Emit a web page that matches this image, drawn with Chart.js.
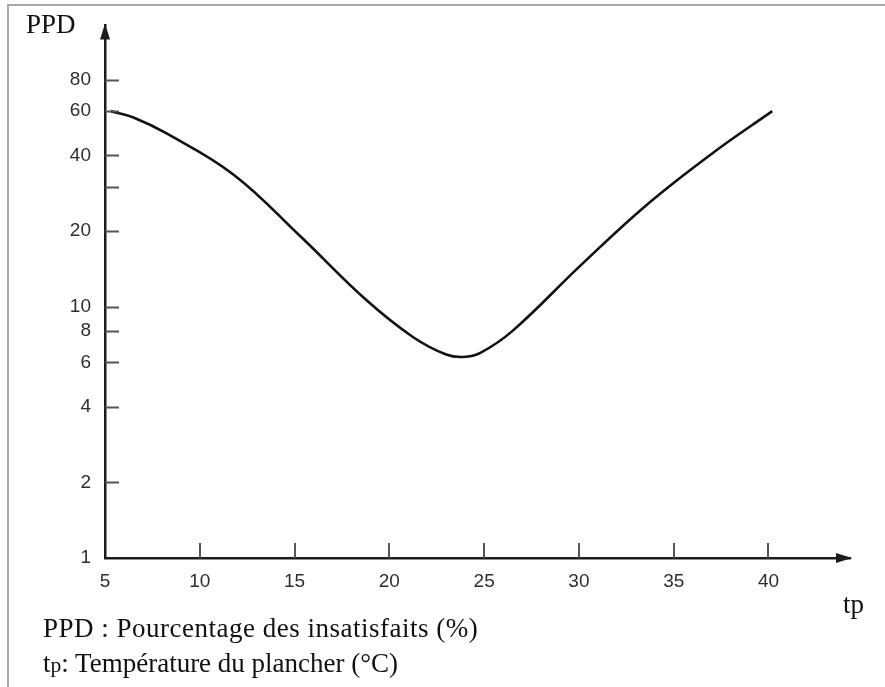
<!DOCTYPE html>
<html>
<head>
<meta charset="utf-8">
<script src="https://cdn.jsdelivr.net/npm/chart.js@4.4.1/dist/chart.umd.min.js"></script>
<style>
  html, body { margin: 0; padding: 0; background: #fff; }
  #wrap { position: relative; width: 885px; height: 687px; overflow: hidden; }
  #frame { position: absolute; left: 7px; top: 4px; right: -10px; bottom: -10px;
           border-top: 2px solid #a8a8a8; border-left: 2px solid #a8a8a8; pointer-events: none; }
  canvas { position: absolute; left: 0; top: 0; }
  .lbl { position: absolute; font-family: "Liberation Serif", "Times New Roman", serif; color: #111;
         white-space: nowrap; line-height: 1; }
  .sub { font-size: 0.8em; }
</style>
</head>
<body>
<div id="wrap">
  <canvas id="c" width="885" height="687"></canvas>
  <div id="frame"></div>
  <div class="lbl" id="ylab" style="left:26px; top:11px; font-size:27px;">PPD</div>
  <div class="lbl" id="xlab" style="left:843px; top:591px; font-size:27px;">tp</div>
  <div class="lbl" id="n1" style="left:43px; top:615px; font-size:27px; letter-spacing:0.5px;">PPD : Pourcentage des insatisfaits (%)</div>
  <div class="lbl" id="n2" style="left:43px; top:650px; font-size:27px;">t<span class="sub">p</span>: Température du plancher (°C)</div>
</div>
<script>
// ---- data ----
const floorTemp = [5.3, 6.5, 8.25, 11.77, 15.29, 18.8, 21.26, 23.0, 23.9, 24.8, 26.53, 30.05, 33.57, 37.08, 40.2];
const ppdValues = [60, 56.6, 48.9, 33.6, 19.1, 10.6, 7.56, 6.45, 6.31, 6.55, 8.05, 14.5, 25.4, 41.0, 60];
const xTicks = [5, 10, 15, 20, 25, 30, 35, 40];
const yTicks = [1, 2, 4, 6, 8, 10, 20, 30, 40, 60, 80];
const yTickLabels = [1, 2, 4, 6, 8, 10, 20, 40, 60, 80];

const points = floorTemp.map((t, i) => ({ x: t, y: ppdValues[i] }));

const axisColor = '#1c1c1c';
const tickColor = '#555';
const tickFont = { family: "'Liberation Sans', Arial, sans-serif", size: 19 };

const axisDecor = {
  id: 'axisDecor',
  afterDraw(chart) {
    const ctx = chart.ctx;
    const a = chart.chartArea;
    const xs = chart.scales.x, ys = chart.scales.y;
    ctx.save();
    // inward tick marks
    ctx.strokeStyle = tickColor;
    ctx.lineWidth = 2;
    ys.ticks.forEach(t => {
      if (t.value === 1) return;
      const p = Math.round(ys.getPixelForValue(t.value)) + 0.5;
      ctx.beginPath(); ctx.moveTo(a.left, p); ctx.lineTo(a.left + 14, p); ctx.stroke();
    });
    xs.ticks.forEach(t => {
      if (t.value === 5) return;
      const p = Math.round(xs.getPixelForValue(t.value));
      ctx.beginPath(); ctx.moveTo(p, a.bottom); ctx.lineTo(p, a.bottom - 15); ctx.stroke();
    });
    // arrow heads
    ctx.fillStyle = axisColor;
    ctx.beginPath();
    ctx.moveTo(a.left, a.top - 2);
    ctx.lineTo(a.left - 5, a.top + 14);
    ctx.lineTo(a.left + 5, a.top + 14);
    ctx.closePath(); ctx.fill();
    ctx.beginPath();
    ctx.moveTo(a.right + 2, a.bottom);
    ctx.lineTo(a.right - 14, a.bottom - 5);
    ctx.lineTo(a.right - 14, a.bottom + 5);
    ctx.closePath(); ctx.fill();
    ctx.restore();
  }
};

new Chart(document.getElementById('c'), {
  type: 'line',
  data: {
    datasets: [{
      data: points,
      borderColor: '#111',
      borderWidth: 2.6,
      pointRadius: 0,
      fill: false,
      tension: 0.4
    }]
  },
  options: {
    responsive: false,
    animation: false,
    devicePixelRatio: 1,
    layout: { padding: { top: 25, right: 35, left: 0, bottom: 0 } },
    plugins: { legend: { display: false }, tooltip: { enabled: false } },
    scales: {
      x: {
        type: 'linear',
        min: 5,
        max: 44.3,
        afterBuildTicks: s => { s.ticks = xTicks.map(v => ({ value: v })); },
        afterFit: s => { s.height = 129; },
        grid: { display: false, drawTicks: false },
        border: { display: true, color: axisColor, width: 2.5 },
        ticks: { color: '#2e2e2e', font: tickFont, padding: 12, maxRotation: 0, autoSkip: false }
      },
      y: {
        type: 'logarithmic',
        min: 1,
        max: 131.6,
        afterBuildTicks: s => { s.ticks = yTicks.map(v => ({ value: v })); },
        afterFit: s => { s.width = 105; },
        grid: { display: false, drawTicks: false },
        border: { display: true, color: axisColor, width: 2.5 },
        ticks: {
          color: '#2e2e2e', font: tickFont, padding: 14, autoSkip: false,
          callback: v => yTickLabels.includes(v) ? String(v) : ''
        }
      }
    }
  },
  plugins: [axisDecor]
});
</script>
</body>
</html>
